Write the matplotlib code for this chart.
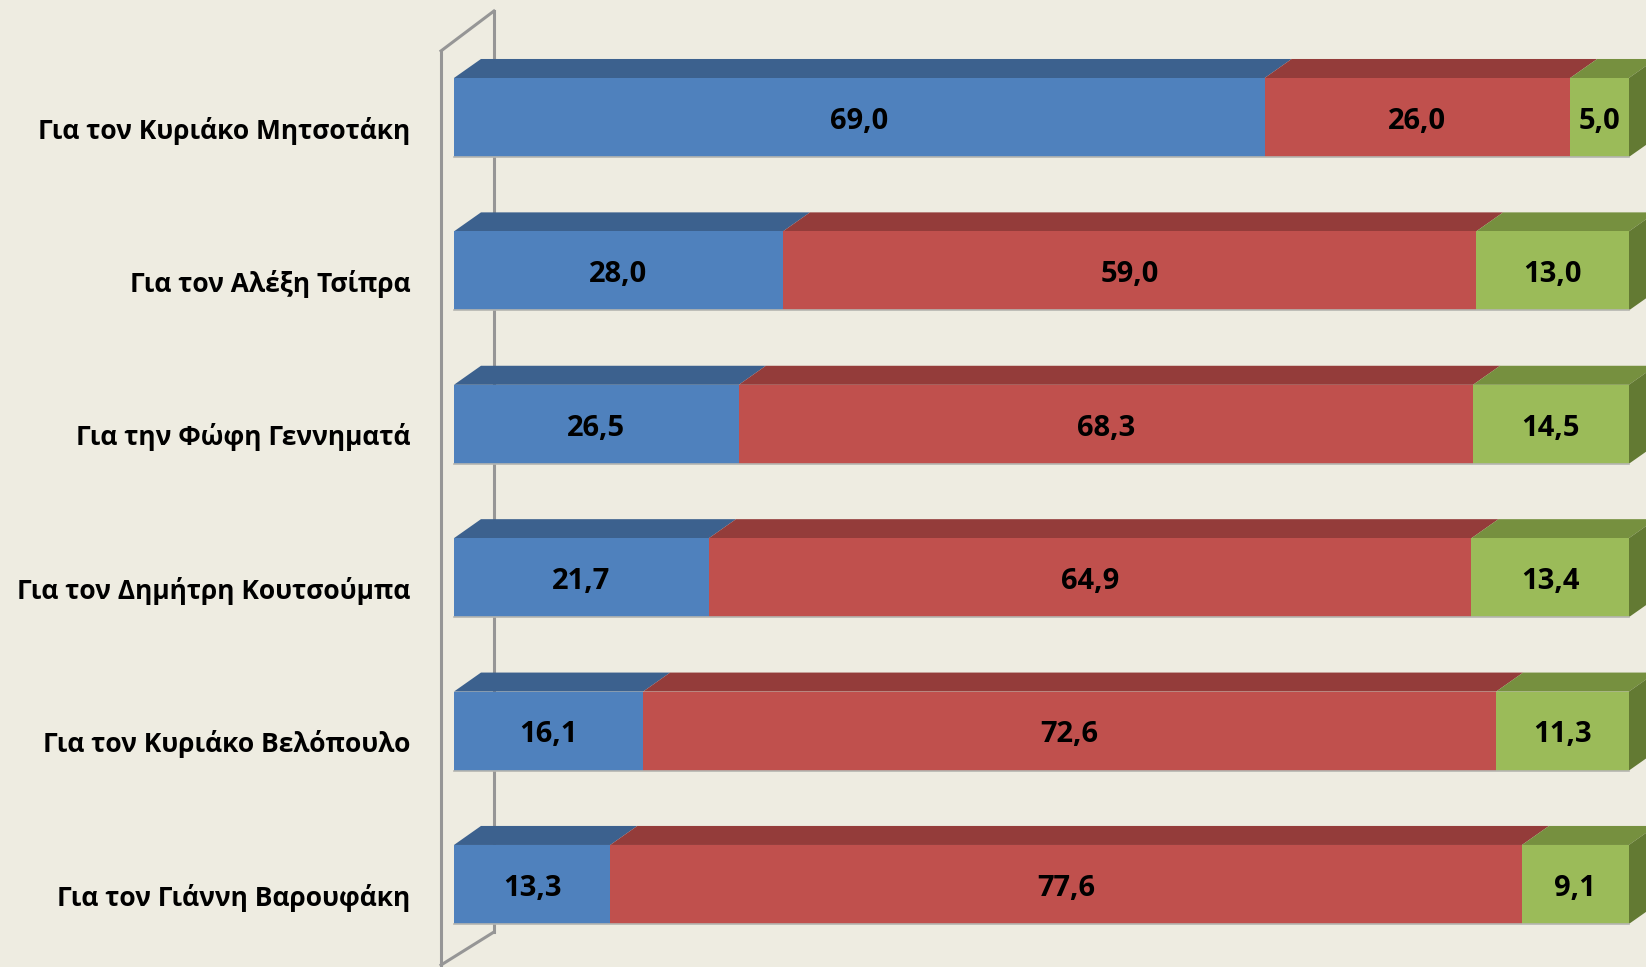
import numpy as np
import matplotlib
matplotlib.use("Agg")
import matplotlib.pyplot as plt
from matplotlib.patches import Polygon

plt.rcParams['font.family'] = ['Open Sans', 'DejaVu Sans']

# data
names = ['Για τον Κυριάκο Μητσοτάκη', 'Για τον Αλέξη Τσίπρα', 'Για την Φώφη Γεννηματά',
         'Για τον Δημήτρη Κουτσούμπα', 'Για τον Κυριάκο Βελόπουλο', 'Για τον Γιάννη Βαρουφάκη']
positive = [69.0, 28.0, 26.5, 21.7, 16.1, 13.3]
negative = [26.0, 59.0, 68.3, 64.9, 72.6, 77.6]
no_answer = [5.0, 13.0, 14.5, 13.4, 11.3, 9.1]

front_cols = ['#4F81BD', '#C0504D', '#9BBB59']
top_cols = ['#3C618E', '#943C3A', '#76903F']
side_col = '#637A33'
bg = '#EEECE1'
wall_col = '#969696'

# fake 3d depth (data units)
dx, dy = 2.3, 0.124
bar_h = 0.515

fig = plt.figure(figsize=(16.46, 9.67), dpi=100, facecolor=bg)
ax = fig.add_axes([0.2758, 0.0, 0.7138, 1.0])
ax.set_facecolor(bg)
ax.set_xlim(0, 100)
ax.set_ylim(5.538, -0.766)
ax.axis('off')

# back wall outline
wall_x = [-1.1, 3.4]
ax.plot([wall_x[0], wall_x[0]], [5.6, -0.434], color=wall_col, lw=2.2, clip_on=False, zorder=1)
ax.plot([wall_x[0], wall_x[1]], [-0.434, -0.694], color=wall_col, lw=2.2, clip_on=False, zorder=1)
ax.plot([wall_x[1], wall_x[1]], [-0.694, 5.31], color=wall_col, lw=2.2, clip_on=False, zorder=1)
ax.plot([wall_x[1], wall_x[0]], [5.31, 5.525], color=wall_col, lw=2.2, clip_on=False, zorder=1)

data = np.array([positive, negative, no_answer])
shares = data / data.sum(axis=0) * 100
y = np.arange(len(names))

left = np.zeros(len(names))
for k in range(3):
    w = shares[k]
    ax.barh(y, w, left=left, height=bar_h, color=front_cols[k], edgecolor='none', zorder=3, clip_on=False)
    for i in range(len(names)):
        x0, x1 = left[i], left[i] + w[i]
        yt = y[i] - bar_h / 2
        top = Polygon([(x0, yt), (x0 + dx, yt - dy), (x1 + dx, yt - dy), (x1, yt)],
                      closed=True, facecolor=top_cols[k], edgecolor='none', zorder=2, clip_on=False)
        ax.add_patch(top)
        ax.text((x0 + x1) / 2, y[i] + 0.025, f'{data[k][i]:.1f}'.replace('.', ','),
                ha='center', va='center', fontsize=21, fontweight='bold', color='black', zorder=5)
    left = left + w

# right side face of the stack
for i in range(len(names)):
    yt = y[i] - bar_h / 2
    yb = y[i] + bar_h / 2
    side = Polygon([(100, yt), (100 + dx, yt - dy), (100 + dx, yb - dy), (100, yb)],
                   closed=True, facecolor=side_col, edgecolor='none', zorder=2, clip_on=False)
    ax.add_patch(side)
    ax.plot([0, 100], [yb, yb], color='#B5B5B0', lw=1.2, zorder=4, clip_on=False)

# category labels
for i, name in enumerate(names):
    ax.text(-0.037, y[i] + 0.085, name, transform=ax.get_yaxis_transform(),
            ha='right', va='center', fontsize=19, fontweight='bold', color='black')

fig.savefig('out.png', dpi=100, facecolor=bg)
